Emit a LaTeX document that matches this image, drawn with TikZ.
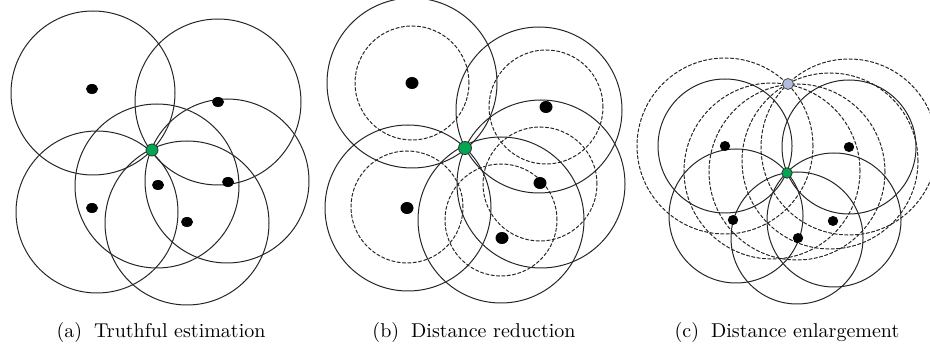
\documentclass[tikz,border=0pt]{standalone}
\usepackage{tikz}
\usetikzlibrary{shapes.geometric}
\definecolor{posgreen}{RGB}{0,166,81}
\definecolor{fakeblue}{RGB}{178,186,224}

\begin{document}
\begin{tikzpicture}[x=0.5pt,y=-0.5pt,line cap=round,
  ring/.style={black!85,line width=0.5pt},
  dring/.style={ring,dash pattern=on 1.6pt off 1.1pt},
  anchordot/.style={ellipse,fill=black,inner sep=0pt,minimum width=6pt,minimum height=5pt},
  truepos/.style={circle,draw=black!80,line width=0.4pt,fill=posgreen,inner sep=0pt,minimum size=6pt},
  fakepos/.style={circle,draw=black!70,line width=0.4pt,fill=fakeblue,inner sep=0pt,minimum size=5.5pt},
  caption/.style={font=\normalsize}]
\useasboundingbox (0,0) rectangle (930,357);
% (a) truthful estimation
\draw[ring] (93,93) circle[radius=41pt];
\draw[ring] (218,102) circle[radius=41.5pt];
\draw[ring] (227,181) circle[radius=41pt];
\draw[ring] (157,186) circle[radius=41pt];
\draw[ring] (97,212) circle[radius=40.5pt];
\draw[ring] (187,223) circle[radius=41pt];
\node[anchordot] (a1) at (92,89) {};
\node[anchordot] (a2) at (218,102) {};
\node[anchordot] (a3) at (228,182) {};
\node[anchordot] (a4) at (158,185) {};
\node[anchordot] (a5) at (92,208) {};
\node[anchordot] (a6) at (187,222) {};
\node[truepos] (pa) at (152,150) {};
\node[caption] (capa) at (161,332) {(a)\hspace{0.6em}Truthful estimation};
% (b) distance reduction
\draw[ring] (412,83) circle[radius=42.5pt];
\draw[ring] (539,110) circle[radius=41.5pt];
\draw[ring] (541,184) circle[radius=42pt];
\draw[ring] (408,208) circle[radius=41.5pt];
\draw[ring] (501,220) circle[radius=41.5pt];
\draw[dring] (412,83) circle[radius=28.5pt];
\draw[dring] (546,107) circle[radius=28.5pt];
\draw[dring] (540,184) circle[radius=28.5pt];
\draw[dring] (407,207) circle[radius=28pt];
\draw[dring] (501,220) circle[radius=28pt];
\node[anchordot,minimum width=6.5pt,minimum height=6pt] (b1) at (412,83) {};
\node[anchordot,minimum width=6.5pt,minimum height=6pt] (b2) at (546,107) {};
\node[anchordot,minimum width=6.5pt,minimum height=6pt] (b3) at (540,183) {};
\node[anchordot,minimum width=6.5pt,minimum height=6pt] (b4) at (407,208) {};
\node[anchordot,minimum width=6.5pt,minimum height=6pt] (b5) at (502,238) {};
\node[truepos,minimum size=6.5pt] (pb) at (465,148) {};
\node[caption] (capb) at (474,332) {(b)\hspace{0.6em}Distance reduction};
% (c) distance enlargement
\draw[dring] (725,146) circle[radius=44pt];
\draw[dring] (849,147) circle[radius=44pt];
\draw[dring] (772,171) circle[radius=44pt];
\draw[dring] (797,172) circle[radius=44pt];
\draw[dring] (830,161) circle[radius=44pt];
\draw[ring] (725,146) circle[radius=33.5pt];
\draw[ring] (849,147) circle[radius=33.5pt];
\draw[ring] (736,216) circle[radius=33.5pt];
\draw[ring] (834,220) circle[radius=33.5pt];
\draw[ring] (797,238) circle[radius=33pt];
\node[anchordot,minimum width=5.2pt,minimum height=5pt] (c1) at (725,146) {};
\node[anchordot,minimum width=5.2pt,minimum height=5pt] (c2) at (849,147) {};
\node[anchordot,minimum width=5.2pt,minimum height=5pt] (c3) at (733,220) {};
\node[anchordot,minimum width=5.2pt,minimum height=5pt] (c4) at (833,221) {};
\node[anchordot,minimum width=5.2pt,minimum height=5pt] (c5) at (798,238) {};
\node[truepos,minimum size=5.2pt] (pc) at (787,173) {};
\node[fakepos] (fc) at (788,84) {};
\node[caption] (capc) at (787,332) {(c)\hspace{0.6em}Distance enlargement};
\end{tikzpicture}
\end{document}
